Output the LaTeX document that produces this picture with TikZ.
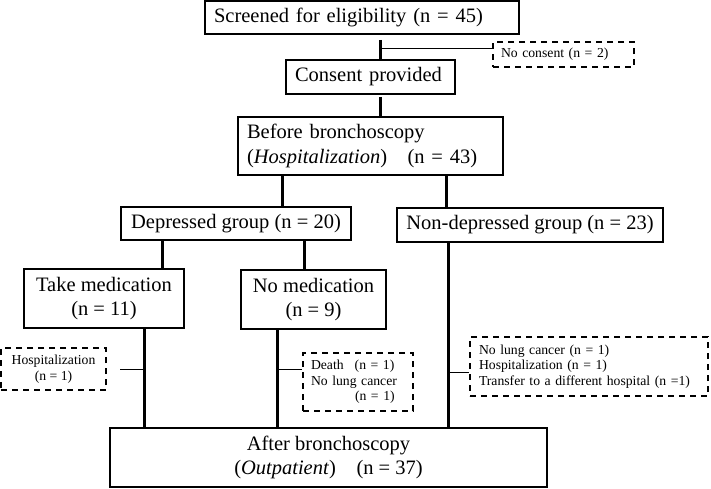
\documentclass[tikz,border=0pt]{standalone}
\usepackage{fontspec}
\setmainfont{Liberation Serif}
\usepackage{tikz}
\usetikzlibrary{calc,positioning}

\newcommand{\bigtxt}{\fontsize{20.5}{24.5}\selectfont}
\newcommand{\smalltxt}{\fontsize{13.7}{15.5}\selectfont}

\begin{document}
\begin{tikzpicture}[x=1pt,y=-1pt,
	box/.style={draw,line width=1.6pt,inner xsep=9pt,inner ysep=0pt,align=center,font=\bigtxt},
	lbox/.style={box,align=left},
	dbox/.style={draw,line width=1.6pt,dash pattern=on 6pt off 5pt,inner xsep=8pt,inner ysep=0pt,align=center,font=\smalltxt},
	ldbox/.style={dbox,align=left},
	tk/.style={line width=3pt},
	tn/.style={line width=0.9pt}]
	
	\useasboundingbox (0,0) rectangle (711,488);
	
	% main boxes
	\node[lbox,text width=296pt,minimum height=33pt] (scr) at (362,17.5) {Screened for eligibility (n = 45)};
	\node[lbox,text width=151pt,minimum height=34pt] (con) at (370.5,77) {Consent provided};
	\node[lbox,text width=247pt,minimum height=58pt] (bef) at (370.5,146) {Before bronchoscopy\\(\textit{Hospitalization})\quad(n = 43)};
	\node[box,minimum width=230pt,minimum height=33pt] (dep) at (236,223.5) {Depressed group (n = 20)};
	\node[box,minimum width=266pt,minimum height=34pt] (non) at (530,225) {Non-depressed group (n = 23)};
	\node[box,minimum width=160pt,minimum height=59pt] (take) at (104,298.5) {Take medication\\(n = 11)};
	\node[box,minimum width=145pt,minimum height=59pt] (nomed) at (313.5,299.5) {No medication\\(n = 9)};
	\node[box,minimum width=437pt,minimum height=59pt] (after) at (328.5,457.5) {After bronchoscopy\\(\textit{Outpatient})\quad(n = 37)};
	
	% drop-outs
	\node[ldbox,text width=125pt,minimum height=25pt] (nocon) at (563.5,54.5) {No consent (n = 2)};
	\node[dbox,minimum width=105pt,minimum height=42pt] (hosp) at (53.5,369) {Hospitalization\\(n = 1)};
	\node[ldbox,text width=94pt,minimum height=58pt] (death) at (358,382) {Death\hspace{11pt}(n = 1)\\No lung cancer\\\hspace*{44pt}(n = 1)};
	\node[ldbox,inner xsep=9pt,text width=220pt,minimum height=59pt] (nd) at (589,366.5) {No lung cancer (n = 1)\\Hospitalization (n = 1)\\Transfer to a different hospital (n =1)};
	
	% line positions
	\coordinate (sp) at (380,0);
	\coordinate (l1) at (282,0);
	\coordinate (l2) at (446,0);
	\coordinate (l3) at (162,0);
	\coordinate (l4) at (304,0);
	\coordinate (l5) at (144,0);
	\coordinate (l6) at (277,0);
	\coordinate (l7) at (448,0);
	\coordinate (t1) at ([yshift=6.5pt]nocon.west);
	\coordinate (t2) at ([xshift=13pt]hosp.east);
	\coordinate (t3) at ([yshift=13pt]death.west);
	\coordinate (t4) at ([yshift=-5.5pt]nd.west);
	
	\draw[tk] ([yshift=-5pt]scr.south -| sp) -- (con.north -| sp);
	\draw[tk] ([yshift=-2pt]con.south -| sp) -- (bef.north -| sp);
	\draw[tk] (bef.south -| l1) -- (dep.north -| l1);
	\draw[tk] (bef.south -| l2) -- (non.north -| l2);
	\draw[tk] (dep.south -| l3) -- (take.north -| l3);
	\draw[tk] (dep.south -| l4) -- (nomed.north -| l4);
	\draw[tk] (take.south -| l5) -- (after.north -| l5);
	\draw[tk] (nomed.south -| l6) -- (after.north -| l6);
	\draw[tk] (non.south -| l7) -- (after.north -| l7);
	
	\draw[tn] (sp |- t1) -- (t1);
	\draw[tn] (l5 |- t2) -- (t2);
	\draw[tn] (l6 |- t3) -- (t3);
	\draw[tn] (l7 |- t4) -- (t4);
	
\end{tikzpicture}
\end{document}
